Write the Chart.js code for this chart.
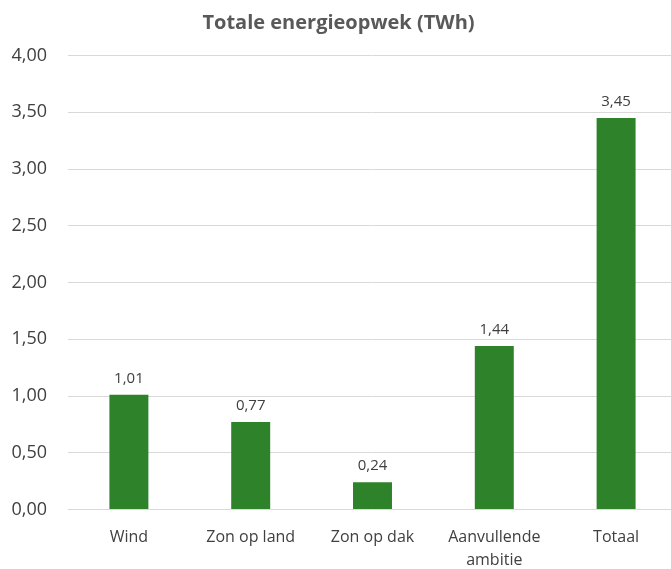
<!DOCTYPE html>
<html>
<head>
<meta charset="utf-8">
<script src="https://cdn.jsdelivr.net/npm/chart.js@4.4.0/dist/chart.umd.min.js"></script>
<style>
html,body{margin:0;padding:0;background:#fff;overflow:hidden;}
#wrap{width:690px;height:569px;}
</style>
</head>
<body>
<div id="wrap"><canvas id="c" width="690" height="569"></canvas></div>
<script>
const titleText = 'Totale energieopwek (TWh)';
const categories = ['Wind', 'Zon op land', 'Zon op dak', ['Aanvullende', 'ambitie'], 'Totaal'];
const values = [1.01, 0.77, 0.24, 1.44, 3.45];
const yMin = 0, yMax = 4, yStep = 0.5;

const fmt = v => v.toFixed(2).replace('.', ',');

const dataLabels = {
  id: 'dataLabels',
  afterDatasetsDraw(chart) {
    const ctx = chart.ctx;
    const meta = chart.getDatasetMeta(0);
    ctx.save();
    ctx.font = '15px "Open Sans"';
    ctx.fillStyle = '#404040';
    ctx.textAlign = 'center';
    ctx.textBaseline = 'alphabetic';
    meta.data.forEach((bar, i) => {
      ctx.fillText(fmt(values[i]), bar.x, bar.y - 12);
    });
    ctx.restore();
  }
};

new Chart(document.getElementById('c'), {
  type: 'bar',
  data: {
    labels: categories,
    datasets: [{
      data: values,
      backgroundColor: '#2E8229',
      borderWidth: 0,
      categoryPercentage: 1,
      barPercentage: 0.32
    }]
  },
  options: {
    responsive: false,
    devicePixelRatio: 1,
    animation: false,
    layout: { padding: { left: 0, right: 13, top: 0, bottom: 0 } },
    plugins: {
      legend: { display: false },
      tooltip: { enabled: false },
      title: {
        display: true,
        text: titleText,
        color: '#595959',
        font: { family: 'Open Sans', size: 20, weight: 'bold', lineHeight: 1.2 },
        padding: { top: 11, bottom: 20.5 }
      }
    },
    scales: {
      x: {
        grid: { display: false, drawTicks: false },
        border: { display: false },
        ticks: {
          color: '#404040',
          font: { family: 'Open Sans', size: 16, lineHeight: 1.45 },
          padding: 16,
          maxRotation: 0,
          autoSkip: false
        },
        afterFit(scale) { scale.height = 59.5; }
      },
      y: {
        min: yMin,
        max: yMax,
        grid: { color: '#d9d9d9', lineWidth: 1, drawTicks: false },
        border: { display: false },
        ticks: {
          stepSize: yStep,
          color: '#404040',
          font: { family: 'Open Sans', size: 18 },
          padding: 21,
          callback: v => fmt(v)
        },
        afterFit(scale) { scale.width = 68; }
      }
    }
  },
  plugins: [dataLabels]
});
</script>
</body>
</html>
